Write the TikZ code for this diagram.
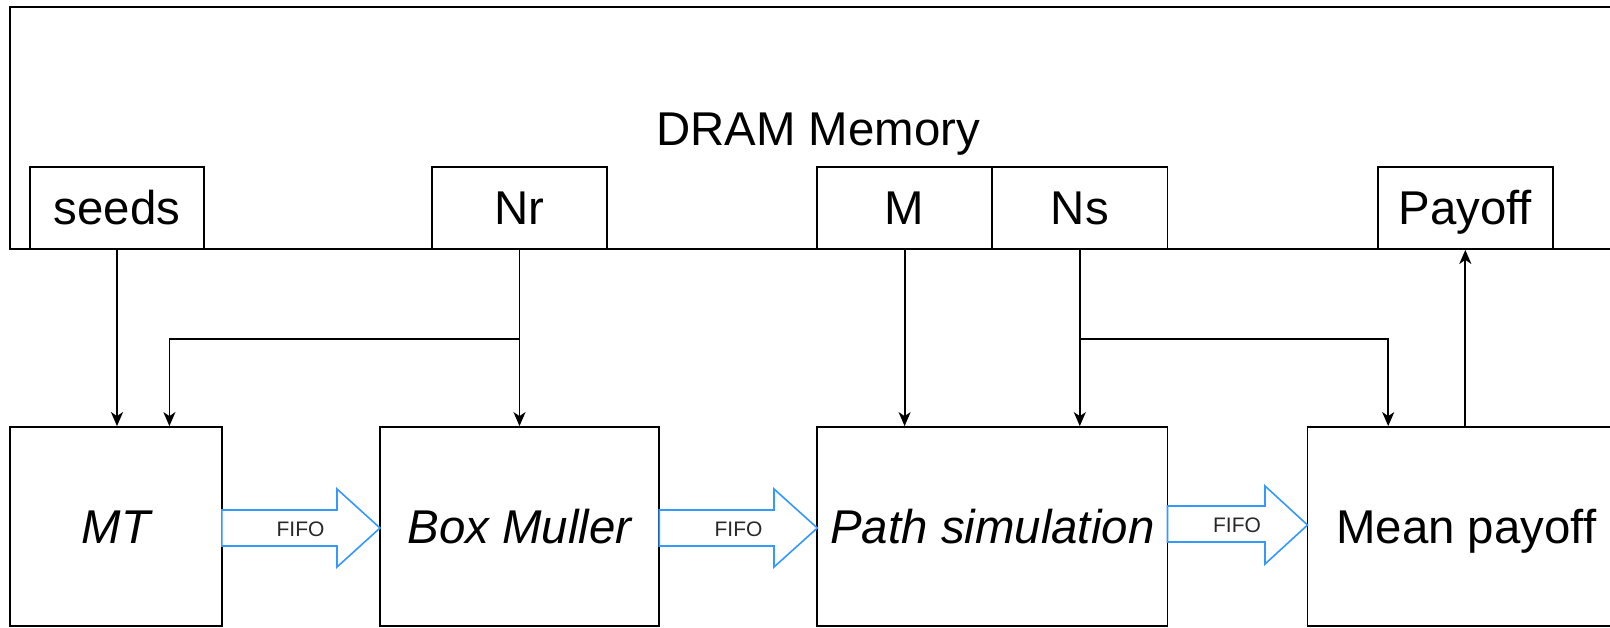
\documentclass[tikz,border=0pt]{standalone}
\usepackage{fontspec}
\setmainfont{Liberation Sans}
\usetikzlibrary{arrows.meta}
\definecolor{fifoblue}{RGB}{51,153,255}
\definecolor{fifotext}{RGB}{40,40,40}
\newcommand{\labfont}{\fontsize{23.7}{28}\selectfont}
\tikzset{
  labeltext/.style={font=\labfont, text height=17pt, text depth=0pt},
  membox/.style={draw, line width=0.9pt, minimum width=87.5pt, minimum height=41.2pt, inner sep=0pt, labeltext},
  unitbox/.style={draw, line width=0.9pt, minimum height=99.5pt, inner sep=0pt, labeltext},
  link/.style={line width=0.9pt, -{Stealth[length=7pt,width=6pt,inset=2pt]}},
  fifoarrow/.style={draw=fifoblue, line width=0.8pt, fill=white, line join=miter},
  fifolabel/.style={inner sep=0pt, text=fifotext, font=\fontsize{10.5}{12}\selectfont}
}
\begin{document}
\begin{tikzpicture}[x=0.5pt, y=-0.5pt]
  % page frame
  \useasboundingbox (0,0) rectangle (1610,627);
  \fill[white] (0,0) rectangle (1610,627);
  \clip (0,0) rectangle (1610,627);

  % memory block and its buffers
  \node[draw, line width=0.9pt, minimum width=807.9pt, minimum height=121pt, inner sep=0pt, labeltext]
    (dram) at (818.2,128) {DRAM Memory};
  \node[membox, minimum width=87.25pt] (seeds) at (117,207.8) {seeds};
  \node[membox, minimum width=87.25pt] (nr) at (519.5,207.8) {Nr};
  \node[membox, minimum width=87.35pt] (m) at (904.6,207.8) {M};
  \node[membox, minimum width=87.75pt] (ns) at (1079.8,207.8) {Ns};
  \node[membox, minimum width=87.65pt] (pay) at (1465.3,207.8) {Payoff};

  % processing units
  \node[unitbox, minimum width=105.75pt] (mt) at (116,526.5) {\itshape MT};
  \node[unitbox, minimum width=139.6pt] (bm) at (519.6,526.5) {\itshape Box Muller};
  \node[unitbox, minimum width=175.1pt] (ps) at (992.4,526.5) {\itshape Path simulation};
  \node[unitbox, minimum width=158.75pt] (mp) at (1466.2,526.5) {Mean payoff};

  % memory reads and writes
  \coordinate (nrsplit) at (519.5,339);
  \coordinate (nssplit) at (1079.8,339);
  \draw[link] (seeds.south) -- (seeds.south |- mt.north);
  \draw[link] (nr.south) -- (nr.south |- bm.north);
  \draw[link] (nrsplit) -| ([xshift=26.7pt]mt.north);
  \draw[link] (m.south) -- (m.south |- ps.north);
  \draw[link] (ns.south) -- (ns.south |- ps.north);
  \draw[link] (nssplit) -| ([xshift=-39pt]mp.north);
  \draw[link] (pay.south |- mp.north) -- (pay.south);

  % FIFO channels between units
  \draw[fifoarrow] (221.8,510) -- (337,510) -- (337,489) -- (380,528) -- (337,567) -- (337,546) -- (221.8,546) -- cycle;
  \node[fifolabel] (fifo1) at (300.5,529) {FIFO};
  \draw[fifoarrow] (659.2,510) -- (774,510) -- (774,489) -- (817.3,528) -- (774,567) -- (774,546) -- (659.2,546) -- cycle;
  \node[fifolabel] (fifo2) at (738.5,529) {FIFO};
  \draw[fifoarrow] (1167.5,506) -- (1265,506) -- (1265,486) -- (1307.5,525) -- (1265,564) -- (1265,542) -- (1167.5,542) -- cycle;
  \node[fifolabel] (fifo3) at (1237,525.5) {FIFO};
\end{tikzpicture}
\end{document}
